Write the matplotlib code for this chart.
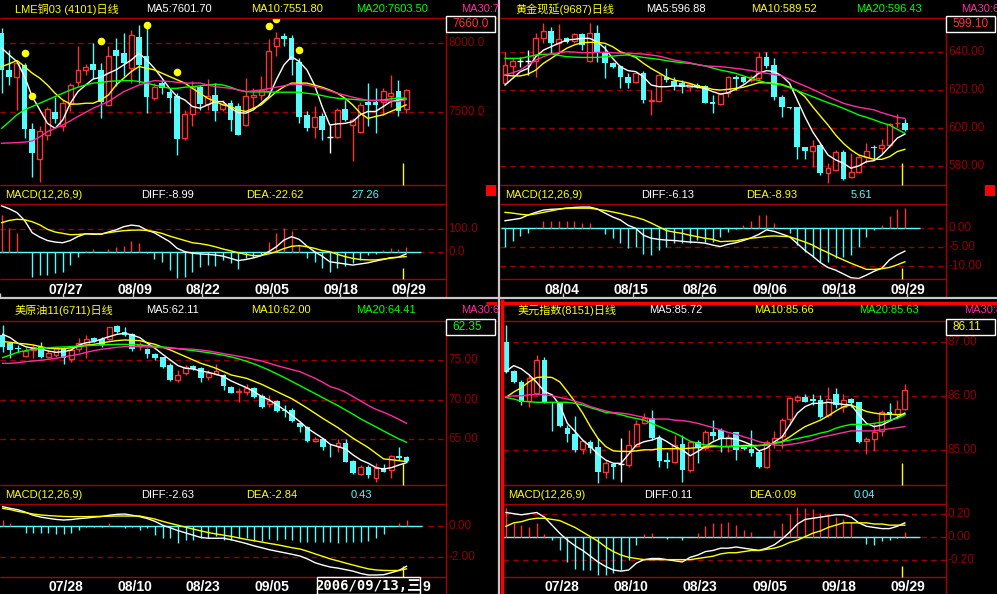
import numpy as np
import matplotlib
matplotlib.use('Agg')
import matplotlib.pyplot as plt
from matplotlib.patches import Rectangle
from matplotlib.transforms import blended_transform_factory

plt.rcParams['font.family'] = ['Liberation Sans', 'Noto Sans CJK SC', 'DejaVu Sans']

W, H = 997, 594
BG = 'black'
RED = '#ff3232'
CYAN = '#54fcfc'
WHITE = '#ffffff'
YELLOW = '#ffff00'
GREEN = '#00ff00'
PINK = '#ff2ca0'
FRAME = '#a80000'
GRID = '#9a0000'
TICK = '#900000'

# ---------------- LME copper (top left) ----------------
tl_open = [8074, 7808, 7756, 7840, 7382, 7162, 7336, 7502, 7398, 7560, 7718, 7804, 7850, 7804, 7554, 7954, 7930, 7822,
           8046, 7906, 7602, 7716, 7646, 7622, 7314, 7488, 7682, 7562, 7628, 7524, 7566, 7548, 7406, 7610, 7628, 7652,
           7978, 8054, 8038, 7862, 7478, 7394, 7470, 7324, 7324, 7522, 7410, 7354, 7572, 7578, 7578, 7616, 7658, 7522]
tl_high = [8110, 7954, 7868, 7856, 7422, 7402, 7538, 7614, 7590, 7712, 7978, 7852, 8002, 7856, 7978, 8038, 8074, 8098,
           8134, 8110, 7712, 7736, 7676, 7640, 7518, 7724, 7700, 7742, 7712, 7590, 7590, 7566, 7748, 7676, 7760, 8030,
           8086, 8074, 8062, 7894, 7506, 7548, 7494, 7410, 7530, 7590, 7458, 7578, 7712, 7676, 7676, 7772, 7736, 7668]
tl_low = [7640, 7700, 7518, 7312, 7032, 6992, 7300, 7422, 7362, 7506, 7688, 7772, 7748, 7458, 7548, 7688, 7760, 7712,
          7712, 7494, 7590, 7634, 7494, 7192, 7302, 7398, 7518, 7518, 7434, 7506, 7362, 7338, 7398, 7530, 7590, 7614,
          7906, 7978, 7772, 7422, 7362, 7314, 7302, 7208, 7312, 7434, 7144, 7348, 7398, 7348, 7482, 7542, 7470, 7494]
tl_close = [7808, 7756, 7856, 7378, 7204, 7368, 7522, 7452, 7566, 7696, 7806, 7832, 7808, 7578, 7906, 7906, 7858, 8062,
            7844, 7610, 7682, 7676, 7602, 7306, 7488, 7682, 7562, 7616, 7506, 7558, 7442, 7338, 7620, 7628, 7662, 7946,
            8038, 8030, 7882, 7466, 7386, 7464, 7374, 7324, 7518, 7446, 7446, 7554, 7554, 7554, 7652, 7638, 7506, 7662]
tl_ma5 = [7966, 7916, 7868, 7760, 7614, 7518, 7420, 7384, 7444, 7566, 7650, 7698, 7742, 7754, 7784, 7808, 7844, 7880,
          7928, 7880, 7820, 7748, 7674, 7614, 7590, 7542, 7530, 7554, 7578, 7578, 7530, 7498, 7494, 7518, 7566, 7614,
          7736, 7844, 7904, 7868, 7808, 7698, 7542, 7408, 7416, 7420, 7432, 7482, 7506, 7506, 7542, 7578, 7590, 7594]
tl_ma10 = [7832, 7852, 7876, 7832, 7784, 7748, 7698, 7638, 7590, 7560, 7560, 7566, 7566, 7590, 7626, 7698, 7748, 7796,
           7832, 7820, 7808, 7784, 7760, 7736, 7712, 7674, 7638, 7602, 7578, 7554, 7542, 7518, 7506, 7530, 7554, 7602,
           7650, 7686, 7712, 7712, 7712, 7698, 7682, 7662, 7638, 7602, 7554, 7494, 7456, 7470, 7482, 7506, 7530, 7554]
tl_ma20 = [7384, 7432, 7482, 7518, 7542, 7566, 7590, 7614, 7638, 7662, 7682, 7698, 7712, 7716, 7724, 7728, 7730, 7730,
           7724, 7712, 7698, 7686, 7674, 7674, 7682, 7686, 7692, 7698, 7704, 7698, 7682, 7662, 7650, 7648, 7648, 7648,
           7646, 7646, 7646, 7646, 7638, 7632, 7622, 7610, 7602, 7598, 7594, 7590, 7586, 7586, 7590, 7598, 7604, 7602]
tl_ma30 = [7276, 7278, 7280, 7284, 7292, 7322, 7360, 7384, 7408, 7438, 7470, 7500, 7530, 7554, 7578, 7614, 7650, 7674,
           7698, 7714, 7730, 7726, 7724, 7718, 7712, 7712, 7712, 7698, 7686, 7680, 7674, 7662, 7650, 7656, 7662, 7672,
           7682, 7692, 7704, 7702, 7698, 7686, 7674, 7656, 7638, 7624, 7610, 7598, 7586, 7586, 7586, 7582, 7578, 7594]
tl_dot_idx = [3, 4, 13, 19, 23, 35, 36, 39]
tl_dot_val = [7930, 7616, 8016, 8132, 7792, 8128, 8178, 7952]
tl_diff = [205, 192, 175, 140, 85, 65, 50, 43, 40, 50, 68, 80, 78, 78, 88, 98, 112, 119, 115, 97, 85, 65, 45, 15, 0, -7,
           -10, -12, -15, -20, -30, -40, -35, -28, -18, 0, 22, 52, 67, 55, 25, 0, -20, -45, -50, -55, -60, -55, -50,
           -42, -35, -27, -25, -10]
tl_dea = [130, 140, 145, 143, 134, 120, 100, 88, 82, 76, 77, 80, 80, 79, 85, 90, 94, 96, 97, 95, 90, 82, 70, 60, 50, 40,
          36, 30, 22, 12, 4, -5, -12, -18, -17, -10, 0, 14, 24, 27, 22, 15, 5, 0, -12, -22, -30, -35, -37, -37, -33,
          -29, -25, -22]
tl_macd = [164, 105, 82, 0, -112, -105, -105, -97, -90, -60, -22, 3, 10, 0, 12, 22, 27, 48, 37, -4, -34, -45, -82, -116,
           -112, -90, -70, -60, -64, -37, -52, -79, -30, -22, -15, 45, 85, 105, 94, 30, -30, -45, -75, -93, -75, -64,
           -52, -37, -15, -10, 7, 18, 12, 22]

# ---------------- Gold (top right) ----------------
tr_open = [623.9, 632.9, 635.6, 635.6, 635.6, 647.4, 651.5, 645.1, 647.4, 646.2, 649.5, 635.6, 650.1, 639.5, 634.2,
           632.8, 626.8, 624.5, 629.2, 614.4, 614.4, 627.1, 625.0, 623.6, 621.5, 622.7, 622.2, 613.9, 612.6, 618.6,
           627.1, 626.8, 625.3, 626.2, 637.7, 633.3, 616.5, 610.9, 610.9, 589.7, 587.9, 590.9, 576.3, 577.7, 587.4,
           574.2, 576.8, 584.4, 590.0, 589.2, 590.9, 602.4, 602.4]
tr_high = [640.3, 636.8, 637.7, 641.2, 650.1, 655.7, 653.6, 655.0, 648.3, 650.4, 650.1, 655.3, 654.5, 643.9, 635.0,
           633.3, 628.9, 629.8, 630.3, 620.0, 628.5, 631.5, 626.8, 625.3, 623.6, 624.0, 622.7, 617.4, 618.3, 627.5,
           628.0, 627.1, 628.0, 640.3, 640.3, 636.8, 617.4, 611.2, 611.2, 590.0, 593.6, 591.8, 581.6, 588.3, 588.3,
           586.5, 585.6, 592.1, 590.9, 593.9, 602.4, 607.3, 604.5]
tr_low = [622.7, 628.0, 632.4, 628.0, 627.1, 644.8, 639.5, 639.5, 644.8, 644.8, 641.2, 635.0, 635.0, 626.2, 631.5,
          620.9, 620.9, 623.6, 613.3, 606.8, 613.9, 624.5, 620.0, 618.6, 619.7, 620.9, 613.0, 607.7, 612.1, 616.5,
          620.0, 623.6, 624.5, 625.3, 631.5, 614.8, 605.9, 610.2, 583.3, 583.3, 579.5, 575.0, 571.0, 577.3, 572.4,
          573.3, 575.9, 581.6, 583.3, 586.5, 590.0, 599.7, 598.5]
tr_close = [633.3, 635.6, 635.6, 635.6, 647.4, 651.5, 645.1, 646.9, 645.6, 649.5, 643.9, 650.1, 639.5, 634.2, 632.0,
            626.8, 623.9, 628.9, 614.8, 614.8, 628.0, 625.3, 622.2, 621.5, 623.2, 621.5, 613.3, 612.6, 617.9, 626.8,
            625.7, 624.5, 627.1, 637.7, 632.8, 616.5, 610.9, 610.3, 589.7, 587.9, 590.4, 575.9, 578.6, 587.4, 572.9,
            576.8, 584.7, 587.9, 589.2, 590.9, 602.0, 602.7, 598.9]
tr_ma5 = [622.7, 626.2, 629.8, 631.5, 637.7, 641.2, 643.0, 644.8, 646.5, 646.9, 647.4, 647.4, 645.6, 642.1, 636.8,
          632.4, 630.3, 629.8, 627.1, 622.7, 621.8, 621.8, 622.2, 622.2, 622.2, 621.5, 620.9, 619.2, 617.9, 618.6,
          620.4, 622.7, 625.7, 628.9, 630.3, 629.8, 627.5, 623.6, 614.8, 605.9, 598.0, 591.8, 585.6, 583.0, 581.2,
          578.6, 579.8, 582.1, 582.6, 585.6, 590.0, 594.5, 596.7]
tr_ma10 = [628.0, 627.5, 627.5, 628.5, 630.6, 634.2, 636.8, 639.5, 642.1, 643.9, 645.1, 645.3, 645.3, 644.8, 643.0,
           640.3, 638.9, 637.3, 634.2, 631.5, 629.2, 626.8, 625.3, 624.5, 623.6, 622.2, 621.5, 620.4, 620.0, 620.4,
           620.9, 621.5, 622.7, 623.9, 623.9, 623.6, 623.0, 621.5, 619.7, 616.5, 611.2, 606.3, 601.5, 596.2, 591.8,
           588.3, 585.6, 584.4, 583.3, 583.3, 584.7, 587.4, 588.6]
tr_ma20 = [636.8, 636.8, 636.8, 637.7, 638.6, 638.9, 639.1, 638.4, 637.7, 637.5, 637.3, 637.3, 637.3, 637.7, 638.0,
           638.4, 638.6, 638.0, 637.3, 636.8, 636.3, 635.6, 635.0, 634.5, 634.2, 633.5, 632.8, 631.7, 630.6, 629.8,
           628.9, 627.5, 626.2, 625.0, 623.9, 623.2, 622.7, 621.3, 619.7, 618.1, 616.5, 614.9, 613.3, 611.9, 610.3,
           608.6, 606.8, 605.6, 604.2, 602.7, 601.5, 599.2, 597.1]
tr_ma30 = [628.0, 629.2, 630.6, 633.3, 635.9, 637.7, 639.1, 639.8, 640.3, 640.2, 639.8, 639.8, 640.0, 640.0, 639.8,
           639.6, 639.5, 639.3, 639.1, 638.6, 638.0, 637.0, 635.9, 635.2, 634.5, 633.6, 632.8, 632.6, 632.4, 632.0,
           631.5, 631.0, 630.3, 629.6, 628.9, 628.2, 627.5, 625.7, 623.9, 622.2, 620.4, 618.5, 616.5, 614.8, 613.0,
           611.9, 610.9, 610.2, 609.5, 608.0, 606.8, 605.6, 605.0]
tr_diff = [2.0, 2.3, 2.6, 3.5, 4.2, 4.8, 5.0, 5.1, 5.3, 5.5, 5.6, 5.6, 5.1, 4.0, 3.0, 2.2, 0.8, 0.0, -1.8, -2.6, -2.9,
           -3.1, -3.2, -3.4, -3.6, -3.7, -3.9, -4.4, -4.8, -4.2, -3.8, -3.2, -2.5, -1.6, -0.4, -0.8, -1.5, -2.2, -4.0,
           -5.8, -7.3, -9.0, -10.3, -11.0, -12.0, -13.0, -13.2, -12.3, -11.3, -10.5, -8.3, -7.0, -6.0]
tr_dea = [4.2, 4.0, 3.7, 3.5, 3.8, 4.2, 4.6, 5.0, 5.3, 5.3, 5.3, 5.3, 5.0, 4.7, 4.3, 3.9, 3.4, 2.9, 2.3, 1.4, 0.4, -0.6,
          -1.0, -1.3, -1.8, -2.2, -2.6, -2.9, -3.5, -3.4, -3.3, -2.9, -2.6, -2.4, -2.1, -2.0, -2.1, -2.2, -2.9, -3.6,
          -4.4, -5.5, -6.4, -7.4, -8.3, -9.2, -10.0, -10.8, -10.8, -10.6, -10.3, -9.6, -8.8]
tr_macd = [-5.0, -3.3, -2.0, -1.3, 0.4, 2.0, 1.8, 2.0, 2.0, 2.0, 1.5, 1.3, 0.0, -1.6, -2.6, -3.9, -5.3, -4.8, -6.8, -7.0,
           -5.7, -4.8, -3.9, -3.9, -3.9, -3.1, -3.5, -3.5, -2.4, -0.9, -0.3, 0.9, 1.8, 3.5, 3.5, 1.5, 0.0, -1.3, -4.4,
           -6.1, -7.5, -8.8, -8.8, -7.9, -7.5, -7.0, -4.8, -2.4, -0.4, 0.9, 3.2, 5.0, 5.3]

# ---------------- US crude (bottom left) ----------------
bl_open = [78.15, 77.1, 76.55, 75.55, 76.26, 76.68, 75.42, 75.63, 76.47, 75.13, 76.39, 76.97, 77.81, 77.65, 77.65,
           79.33, 78.49, 78.23, 76.81, 76.39, 75.71, 75.42, 74.37, 72.48, 73.32, 74.24, 74.03, 72.9, 73.19, 73.11,
           71.64, 71.01, 71.01, 71.43, 70.51, 69.41, 69.83, 68.7, 68.7, 67.1, 66.52, 64.84, 65.0, 64.10, 64.16, 64.5,
           62.27, 60.6, 61.56, 60.17, 61.35, 61.14, 62.9, 62.74]
bl_high = [79.41, 77.31, 76.89, 76.68, 76.89, 77.31, 76.26, 76.68, 76.68, 76.47, 77.73, 78.15, 77.94, 77.94, 79.2,
           79.41, 79.2, 78.36, 77.31, 76.47, 75.84, 75.42, 74.58, 73.74, 74.37, 74.37, 74.16, 73.74, 74.45, 73.19,
           71.77, 71.43, 71.93, 71.64, 70.67, 70.59, 69.96, 69.33, 68.91, 67.31, 66.73, 65.34, 65.13, 64.37, 65.05,
           65.05, 62.4, 61.77, 61.77, 61.98, 61.85, 63.03, 64.08, 62.95]
bl_low = [76.05, 75.21, 76.05, 75.42, 75.21, 75.3, 75.21, 75.42, 74.45, 74.79, 76.05, 75.3, 77.31, 76.68, 77.52, 78.36,
          78.07, 76.13, 76.26, 75.21, 75.0, 74.03, 72.35, 72.19, 73.11, 73.74, 72.27, 72.48, 73.11, 71.22, 70.8, 69.75,
          70.59, 70.25, 68.91, 69.12, 68.49, 67.86, 67.15, 65.97, 64.71, 64.63, 63.66, 62.82, 63.37, 62.11, 60.64,
          60.51, 60.17, 59.67, 60.93, 60.09, 62.4, 62.19]
bl_close = [76.68, 76.26, 76.35, 76.13, 76.68, 75.42, 75.84, 76.47, 75.21, 76.26, 77.1, 77.65, 77.39, 76.89, 79.12,
            78.49, 78.15, 76.39, 76.97, 75.71, 75.21, 74.16, 72.48, 73.11, 74.16, 73.87, 72.77, 73.32, 73.61, 71.77,
            70.8, 71.1, 71.43, 70.38, 69.12, 69.83, 68.57, 68.57, 67.31, 66.6, 64.84, 65.0, 64.08, 64.08, 64.5, 62.19,
            60.72, 61.56, 60.51, 61.43, 60.93, 62.95, 62.7, 62.32]
bl_ma5 = [78.23, 77.81, 77.1, 76.68, 76.47, 76.39, 76.13, 75.97, 76.05, 76.26, 76.89, 77.18, 77.31, 77.65, 77.94, 78.23,
          78.36, 78.15, 77.81, 77.1, 76.47, 75.71, 75.0, 74.29, 73.95, 73.87, 73.61, 73.45, 73.19, 72.9, 72.35, 71.93,
          71.51, 71.01, 70.38, 69.96, 69.33, 68.7, 67.99, 67.23, 66.39, 65.76, 65.13, 64.37, 64.08, 63.79, 63.03, 62.4,
          61.98, 61.43, 61.27, 61.43, 61.77, 62.06]
bl_ma10 = [77.31, 77.23, 77.1, 77.02, 76.89, 76.68, 76.47, 76.43, 76.39, 76.55, 76.68, 76.85, 76.97, 77.14, 77.31,
           77.44, 77.52, 77.48, 77.44, 77.18, 76.97, 76.6, 76.26, 75.84, 75.42, 75.0, 74.58, 74.29, 73.95, 73.53,
           73.11, 72.9, 72.69, 72.31, 71.93, 71.47, 71.01, 70.55, 70.09, 69.5, 68.91, 68.28, 67.65, 67.06, 66.47, 65.8,
           65.13, 64.54, 63.95, 63.24, 62.53, 62.44, 62.32, 62.19]
bl_ma20 = [75.29, 75.63, 75.97, 76.18, 76.35, 76.47, 76.55, 76.6, 76.64, 76.68, 76.76, 76.81, 76.85, 76.89, 76.93,
           76.97, 76.97, 76.93, 76.89, 76.81, 76.72, 76.64, 76.55, 76.43, 76.3, 76.18, 76.05, 75.92, 75.76, 75.59,
           75.38, 75.13, 74.83, 74.5, 74.12, 73.7, 73.24, 72.77, 72.27, 71.77, 71.26, 70.76, 70.25, 69.75, 69.25,
           68.7, 68.15, 67.57, 67.06, 66.56, 66.05, 65.55, 65.05, 64.63]
bl_ma30 = [74.58, 74.58, 74.66, 74.79, 74.87, 74.96, 75.08, 75.21, 75.38, 75.55, 75.71, 75.97, 76.18, 76.35, 76.47,
           76.6, 76.68, 76.68, 76.68, 76.64, 76.6, 76.55, 76.47, 76.43, 76.39, 76.35, 76.26, 76.13, 75.97, 75.8,
           75.63, 75.46, 75.29, 75.08, 74.87, 74.58, 74.29, 74.03, 73.78, 73.53, 73.11, 72.69, 72.19, 71.64, 71.35,
           70.93, 70.38, 69.83, 69.25, 68.78, 68.41, 67.99, 67.52, 67.02]
bl_diff = [1.26, 1.15, 1.06, 0.9, 0.7, 0.58, 0.5, 0.43, 0.39, 0.42, 0.48, 0.52, 0.58, 0.62, 0.7, 0.76, 0.78, 0.7, 0.61,
           0.48, 0.3, 0.05, -0.12, -0.3, -0.45, -0.6, -0.75, -0.8, -0.8, -0.8, -0.9, -1.02, -1.15, -1.3, -1.42, -1.55,
           -1.65, -1.75, -1.85, -1.96, -2.15, -2.4, -2.55, -2.68, -2.75, -2.85, -2.95, -3.1, -3.2, -3.2, -3.18, -3.05,
           -2.9, -2.63]
bl_dea = [1.15, 1.07, 0.95, 0.87, 0.78, 0.72, 0.68, 0.65, 0.62, 0.61, 0.61, 0.61, 0.62, 0.63, 0.64, 0.65, 0.65, 0.65,
          0.65, 0.55, 0.45, 0.3, 0.17, 0.05, -0.08, -0.2, -0.32, -0.43, -0.52, -0.6, -0.68, -0.78, -0.88, -0.96, -1.05,
          -1.14, -1.22, -1.32, -1.42, -1.5, -1.65, -1.82, -1.98, -2.15, -2.28, -2.42, -2.55, -2.68, -2.8, -2.87, -2.9,
          -2.91, -2.9, -2.8]
bl_macd = [0.39, 0.17, 0.0, -0.43, -0.43, -0.48, -0.48, -0.52, -0.52, -0.48, -0.26, -0.05, -0.09, -0.04, 0.22, -0.02,
           -0.15, -0.04, -0.26, -0.15, -0.59, -0.80, -0.80, -1.13, -0.91, -0.91, -0.80, -0.80, -0.65, -0.91, -0.91,
           -0.80, -0.80, -0.96, -0.96, -0.87, -0.91, -0.87, -0.91, -1.02, -1.02, -1.02, -1.02, -1.02, -1.09, -1.02,
           -1.02, -1.02, -0.96, -0.80, -0.52, -0.02, 0.22, 0.39]

# ---------------- US dollar index (bottom right) ----------------
br_open = [87.013, 86.47, 86.26, 85.914, 86.056, 86.673, 85.889, 85.889, 85.408, 85.297, 85.025, 85.161, 85.068,
           84.605, 84.747, 84.741, 84.729, 85.087, 85.5, 85.605, 85.235, 84.821, 84.791, 85.112, 84.636, 85.161,
           85.037, 85.346, 85.377, 85.087, 85.334, 85.068, 85.025, 84.976, 84.698, 85.161, 85.272, 85.581, 85.932,
           85.994, 85.951, 85.932, 85.655, 86.037, 85.809, 85.951, 85.889, 85.173, 85.21, 85.358, 85.704, 85.667,
           85.766]
br_high = [87.321, 86.488, 86.303, 86.396, 86.766, 86.735, 85.902, 85.902, 85.47, 85.642, 85.192, 85.192, 85.223,
           84.821, 84.76, 85.223, 85.377, 85.562, 85.686, 85.747, 85.284, 84.976, 85.284, 85.284, 85.173, 85.192,
           85.377, 85.562, 85.408, 85.297, 85.346, 85.087, 85.377, 85.007, 85.192, 85.358, 85.593, 85.994, 86.025,
           86.037, 86.037, 86.025, 86.179, 86.149, 86.037, 85.963, 85.902, 85.253, 85.5, 85.747, 85.871, 85.932,
           86.223]
br_low = [86.426, 86.241, 85.84, 85.809, 86.037, 85.871, 85.358, 85.439, 85.161, 84.976, 84.926, 84.945, 84.389,
          84.494, 84.47, 84.42, 84.698, 85.068, 85.482, 85.192, 84.698, 84.667, 84.76, 84.42, 84.605, 84.76, 85.007,
          85.192, 84.976, 84.976, 84.821, 85.007, 84.902, 84.679, 84.667, 85.037, 85.037, 85.47, 85.902, 85.889, 85.84,
          85.593, 85.624, 85.778, 85.716, 85.809, 85.13, 84.926, 84.988, 85.272, 85.562, 85.624, 85.747]
br_close = [86.445, 86.272, 85.902, 86.334, 86.673, 85.889, 85.871, 85.457, 85.297, 85.007, 85.173, 85.05, 84.593,
            84.76, 84.698, 84.741, 85.099, 85.482, 85.605, 85.223, 84.803, 84.778, 85.099, 84.636, 85.161, 85.037,
            85.346, 85.272, 85.21, 85.253, 85.007, 85.025, 84.945, 84.698, 85.161, 85.235, 85.562, 85.963, 85.994,
            85.902, 85.914, 85.624, 85.951, 85.84, 85.932, 85.871, 85.161, 85.21, 85.346, 85.704, 85.655, 85.766,
            86.118]
br_ma5 = [86.46, 86.57, 86.51, 86.40, 86.26, 86.09, 86.03, 85.84, 85.50, 85.35, 85.19, 85.07, 84.93, 84.82, 84.76,
          84.76, 84.93, 85.10, 85.16, 85.19, 85.24, 85.16, 85.07, 85.01, 84.90, 84.98, 85.07, 85.16, 85.22, 85.22,
          85.21, 85.16, 85.10, 84.99, 85.04, 85.16, 85.25, 85.47, 85.69, 85.81, 85.87, 85.87, 85.89, 85.87, 85.85,
          85.84, 85.66, 85.50, 85.44, 85.47, 85.54, 85.61, 85.69]
br_ma10 = [85.98, 86.08, 86.16, 86.27, 86.35, 86.36, 86.35, 86.27, 86.09, 85.90, 85.69, 85.44, 85.22, 85.07, 84.99,
           84.98, 84.98, 84.99, 85.01, 85.01, 85.03, 85.03, 85.03, 85.03, 85.04, 85.05, 85.06, 85.07, 85.07, 85.07,
           85.08, 85.09, 85.09, 85.09, 85.10, 85.13, 85.16, 85.25, 85.35, 85.44, 85.50, 85.56, 85.64, 85.73, 85.81,
           85.84, 85.78, 85.72, 85.69, 85.67, 85.67, 85.66, 85.67]
br_ma20 = [85.98, 85.95, 85.91, 85.90, 85.89, 85.89, 85.89, 85.89, 85.89, 85.87, 85.84, 85.79, 85.75, 85.70, 85.69,
           85.66, 85.62, 85.59, 85.56, 85.50, 85.44, 85.38, 85.32, 85.25, 85.17, 85.13, 85.10, 85.09, 85.07, 85.07,
           85.07, 85.07, 85.07, 85.09, 85.10, 85.13, 85.16, 85.19, 85.22, 85.25, 85.28, 85.32, 85.35, 85.41, 85.45,
           85.48, 85.48, 85.48, 85.50, 85.52, 85.56, 85.59, 85.66]
br_ma30 = [85.99, 86.01, 86.01, 86.03, 86.03, 86.03, 86.01, 85.98, 85.95, 85.91, 85.87, 85.81, 85.77, 85.73, 85.70,
           85.69, 85.67, 85.64, 85.61, 85.58, 85.58, 85.58, 85.56, 85.55, 85.53, 85.50, 85.46, 85.42, 85.38, 85.33,
           85.30, 85.25, 85.21, 85.16, 85.13, 85.10, 85.09, 85.11, 85.13, 85.16, 85.19, 85.24, 85.27, 85.30, 85.33,
           85.36, 85.36, 85.36, 85.36, 85.38, 85.40, 85.42, 85.44]
br_diff = [0.21, 0.20, 0.19, 0.20, 0.21, 0.17, 0.10, 0.03, -0.03, -0.08, -0.12, -0.17, -0.22, -0.26, -0.29, -0.30,
           -0.29, -0.23, -0.20, -0.19, -0.19, -0.20, -0.21, -0.22, -0.18, -0.16, -0.13, -0.12, -0.10, -0.10, -0.09,
           -0.10, -0.11, -0.12, -0.10, -0.07, -0.02, 0.04, 0.11, 0.15, 0.16, 0.17, 0.18, 0.19, 0.19, 0.17, 0.12, 0.09,
           0.08, 0.07, 0.07, 0.09, 0.12]
br_dea = [0.09, 0.12, 0.13, 0.15, 0.16, 0.16, 0.15, 0.14, 0.11, 0.08, 0.04, 0.0, -0.04, -0.09, -0.13, -0.16, -0.18,
          -0.19, -0.20, -0.20, -0.20, -0.20, -0.20, -0.20, -0.20, -0.19, -0.18, -0.17, -0.15, -0.14, -0.14, -0.13,
          -0.12, -0.12, -0.11, -0.10, -0.08, -0.05, -0.03, 0.0, 0.03, 0.05, 0.08, 0.10, 0.12, 0.12, 0.12, 0.12, 0.11,
          0.11, 0.10, 0.10, 0.10]
br_macd = [0.25, 0.12, 0.10, 0.08, 0.12, 0.02, -0.03, -0.12, -0.22, -0.28, -0.29, -0.29, -0.33, -0.33, -0.32, -0.29,
           -0.20, -0.07, 0.02, 0.03, 0.0, -0.02, 0.0, -0.03, 0.0, 0.03, 0.09, 0.12, 0.12, 0.13, 0.10, 0.06, 0.04, 0.0,
           0.0, 0.06, 0.12, 0.20, 0.26, 0.25, 0.24, 0.21, 0.20, 0.17, 0.15, 0.13, 0.0, -0.06, -0.07, -0.04, -0.03,
           -0.01, 0.04]

# header texts
tl_head = ['LME铜03 (4101)日线', 'MA5:7601.70', 'MA10:7551.80', 'MA20:7603.50', 'MA30:7']
tr_head = ['黄金现延(9687)日线', 'MA5:596.88', 'MA10:589.52', 'MA20:596.43', 'MA30:6']
bl_head = ['美原油11(6711)日线', 'MA5:62.11', 'MA10:62.00', 'MA20:64.41', 'MA30:6']
br_head = ['美元指数(8151)日线', 'MA5:85.72', 'MA10:85.66', 'MA20:85.63', 'MA30:8']
tl_mhead = ['MACD(12,26,9)', 'DIFF:-8.99', 'DEA:-22.62', '27.26']
tr_mhead = ['MACD(12,26,9)', 'DIFF:-6.13', 'DEA:-8.93', '5.61']
bl_mhead = ['MACD(12,26,9)', 'DIFF:-2.63', 'DEA:-2.84', '0.43']
br_mhead = ['MACD(12,26,9)', 'DIFF:0.11', 'DEA:0.09', '0.04']
tl_dates = ['07/27', '08/09', '08/22', '09/05', '09/18', '09/29']
tr_dates = ['08/04', '08/15', '08/26', '09/06', '09/18', '09/29']
bl_dates = ['07/28', '08/10', '08/23', '09/05']          # the rest sit under the date tooltip
br_dates = ['07/28', '08/10', '08/23', '09/05', '09/18', '09/29']

ROWS = {
    'top': dict(title=9, p0=18, p1=185, mh=194.5, m0=204, m1=279, dates=290, end=297),
    'bot': dict(title=310, p0=321, p1=485, mh=494.5, m0=504, m1=577, dates=587, end=594),
}

fig = plt.figure(figsize=(W / 100, H / 100), dpi=100, facecolor=BG)


def rect(x0, y0, x1, y1):
    return [x0 / W, 1 - y1 / H, (x1 - x0) / W, (y1 - y0) / H]


ov = fig.add_axes([0, 0, 1, 1], zorder=10)
ov.set_xlim(0, W)
ov.set_ylim(H, 0)
ov.axis('off')
ov.patch.set_alpha(0)


def candles(ax, o, h, l, c):
    o, h, l, c = map(np.asarray, (o, h, l, c))
    x = np.arange(len(c))
    up, dn, eq = c > o, c < o, c == o
    col = np.where(up, RED, np.where(dn, CYAN, WHITE))
    ax.vlines(x, l, h, colors=col, lw=1, zorder=2)
    lo, hi = np.minimum(o, c), np.maximum(o, c)
    ax.bar(x[dn], (hi - lo)[dn], bottom=lo[dn], width=0.74, color=CYAN, lw=0, zorder=3)
    ax.bar(x[up], (hi - lo)[up], bottom=lo[up], width=0.64, facecolor=BG, edgecolor=RED, lw=1, zorder=3)
    ax.hlines(c[eq], x[eq] - 0.38, x[eq] + 0.38, colors=WHITE, lw=1, zorder=3)


def panel(left, axis, row, c0, step, ohlc, mas, plim, pgrid, pfmt, diff, dea, hist, mlim, mgrid, mfmt,
          head, mhead, dates, date_x, box_txt, box_col, cursor_x):
    g = ROWS[row]
    width = axis - left
    xlim = (-c0 / step, (width - c0) / step)

    ax = fig.add_axes(rect(left, g['p0'], axis, g['p1']))
    ax.set_facecolor(BG)
    ax.axis('off')
    ax.set_xlim(*xlim)
    ax.set_ylim(*plim)
    tr = blended_transform_factory(ax.transAxes, ax.transData)
    for v in pgrid:
        ax.axhline(v, color=GRID, lw=1, ls=(0, (4, 3)), zorder=1)
        ax.text(1 + 2 / width, v, pfmt.format(v), transform=tr, color=TICK, fontsize=8.5,
                va='center', ha='left', clip_on=False)
    candles(ax, *ohlc)
    for vals, col in zip(mas, [WHITE, YELLOW, GREEN, PINK]):
        ax.plot(np.arange(len(vals)), vals, color=col, lw=1, zorder=4)

    mx = fig.add_axes(rect(left, g['m0'], axis, g['m1']))
    mx.set_facecolor(BG)
    mx.axis('off')
    mx.set_xlim(*xlim)
    mx.set_ylim(*mlim)
    trm = blended_transform_factory(mx.transAxes, mx.transData)
    for v in mgrid:
        mx.axhline(v, color=GRID, lw=1, ls=(0, (4, 3)), zorder=1)
        mx.text(1 + 2 / width, v, mfmt.format(v), transform=trm, color=TICK, fontsize=8.5,
                va='center', ha='left', clip_on=False)
    hist = np.asarray(hist)
    xm = np.arange(len(hist))
    mx.hlines(0, -0.5, len(hist) + 1, colors=CYAN, lw=1, zorder=2)
    mx.vlines(xm, 0, hist, colors=np.where(hist >= 0, RED, CYAN), lw=1, zorder=3)
    mx.plot(np.arange(len(diff)), diff, color=WHITE, lw=1, zorder=4)
    mx.plot(np.arange(len(dea)), dea, color=YELLOW, lw=1, zorder=4)

    # frame lines
    ov.hlines(g['p0'], left, left + 497, colors=FRAME, lw=1)
    ov.hlines([g['p1'], g['m0'], g['m1']], left, axis, colors=FRAME, lw=1)
    ov.vlines(axis, g['p0'], g['end'], colors=FRAME, lw=1)

    # header texts
    for s, dx, col in zip(head, [15, 146, 251, 356, 461], [YELLOW, WHITE, YELLOW, GREEN, PINK]):
        ov.text(left + dx, g['title'], s, color=col, fontsize=8, va='center', ha='left')
    for s, dx, col in zip(mhead, [5, 141, 246, 351], [YELLOW, WHITE, YELLOW, CYAN]):
        ov.text(left + dx, g['mh'], s, color=col, fontsize=8, va='center', ha='left')
    for s, dx in zip(dates, date_x):
        ov.text(left + dx, g['dates'], s, color=WHITE, fontsize=10, fontweight='bold',
                va='center', ha='center')

    # current price box
    by0 = g['p0'] - 2
    ov.add_patch(Rectangle((axis, by0), 49, 16, facecolor=BG, edgecolor=WHITE, lw=1, zorder=5))
    ov.text(axis + 6, by0 + 8, box_txt, color=box_col, fontsize=8.5, va='center', ha='left', zorder=6)

    # yellow cursor marks
    ov.vlines(cursor_x, g['p1'] - 22, g['p1'], colors=YELLOW, lw=1)
    ov.vlines(cursor_x, g['m1'] - 11, g['m1'], colors=YELLOW, lw=1)
    return ax


tl_ax = panel(0, 446, 'top', 1.67, 7.63, (tl_open, tl_high, tl_low, tl_close),
              (tl_ma5, tl_ma10, tl_ma20, tl_ma30), (6973, 8184), [8000, 7500], '{:.1f}',
              tl_diff, tl_dea, tl_macd, (-122.4, 213.5), [100, 0], '{:.1f}',
              tl_head, tl_mhead, tl_dates, [66, 135, 203, 272, 341, 409], '7660.0', RED, 403)
tl_ax.scatter(tl_dot_idx, tl_dot_val, s=30, color=YELLOW, zorder=6, lw=0)

panel(500, 946, 'top', 5, 7.69, (tr_open, tr_high, tr_low, tr_close),
      (tr_ma5, tr_ma10, tr_ma20, tr_ma30), (569.7, 658.2), [640, 620, 600, 580], '{:.2f}',
      tr_diff, tr_dea, tr_macd, (-13.33, 6.4), [0, -5, -10], '{:.2f}',
      tr_head, tr_mhead, tr_dates, [62, 131, 200, 270, 339, 408], '599.10', RED, 902)

panel(0, 446, 'bot', 2.67, 7.62, (bl_open, bl_high, bl_low, bl_close),
      (bl_ma5, bl_ma10, bl_ma20, bl_ma30), (59.25, 79.91), [75, 70, 65], '{:.2f}',
      bl_diff, bl_dea, bl_macd, (-3.33, 1.435), [0, -2], '{:.2f}',
      bl_head, bl_mhead, bl_dates, [66, 135, 203, 272], '62.35', GREEN, 403)

panel(503, 946, 'bot', 3, 7.67, (br_open, br_high, br_low, br_close),
      (br_ma5, br_ma10, br_ma20, br_ma30), (84.358, 87.396), [87, 86, 85], '{:.2f}',
      br_diff, br_dea, br_macd, (-0.351, 0.284), [0.2, 0, -0.2], '{:.2f}',
      br_head, br_mhead, br_dates, [59, 128, 197, 267, 336, 405], '86.11', YELLOW, 902)

# red squares next to the MACD headers of the upper panels
for x0 in (486, 985):
    ov.add_patch(Rectangle((x0, 185), 10, 11, facecolor='#ff0000', lw=0))

# panel separators
ov.vlines(498.5, 0, H, colors='#c8c8c8', lw=1.6)
ov.hlines(297.5, 0, W, colors='#c8c8c8', lw=1.6)
for x in [0, 63, 133, 202, 272, 340, 407, 563, 633, 702, 770, 839, 907]:
    ov.vlines(x, 293, 298, colors='#c8c8c8', lw=1)
ov.hlines(302.5, 486, 497, colors='#ff0000', lw=2)

# active panel frame (bottom right)
ov.hlines(302.5, 500, W, colors='#ff0000', lw=2.5)
ov.vlines(501.5, 299, H, colors='#ff0000', lw=2.5)

# date tooltip (the last date label peeks out on its right)
ov.text(426, 587, '9', color=WHITE, fontsize=10, fontweight='bold', va='center', ha='center')
ov.add_patch(Rectangle((317, 577), 103, 17, facecolor=BG, edgecolor=WHITE, lw=1, zorder=7))
ov.text(368.5, 586, '2006/09/13,三', color=WHITE, fontsize=10, fontweight='bold',
        family=['DejaVu Sans Mono', 'Noto Sans CJK SC'], va='center', ha='center', zorder=8)

fig.savefig('out.png', dpi=100, facecolor=BG)
